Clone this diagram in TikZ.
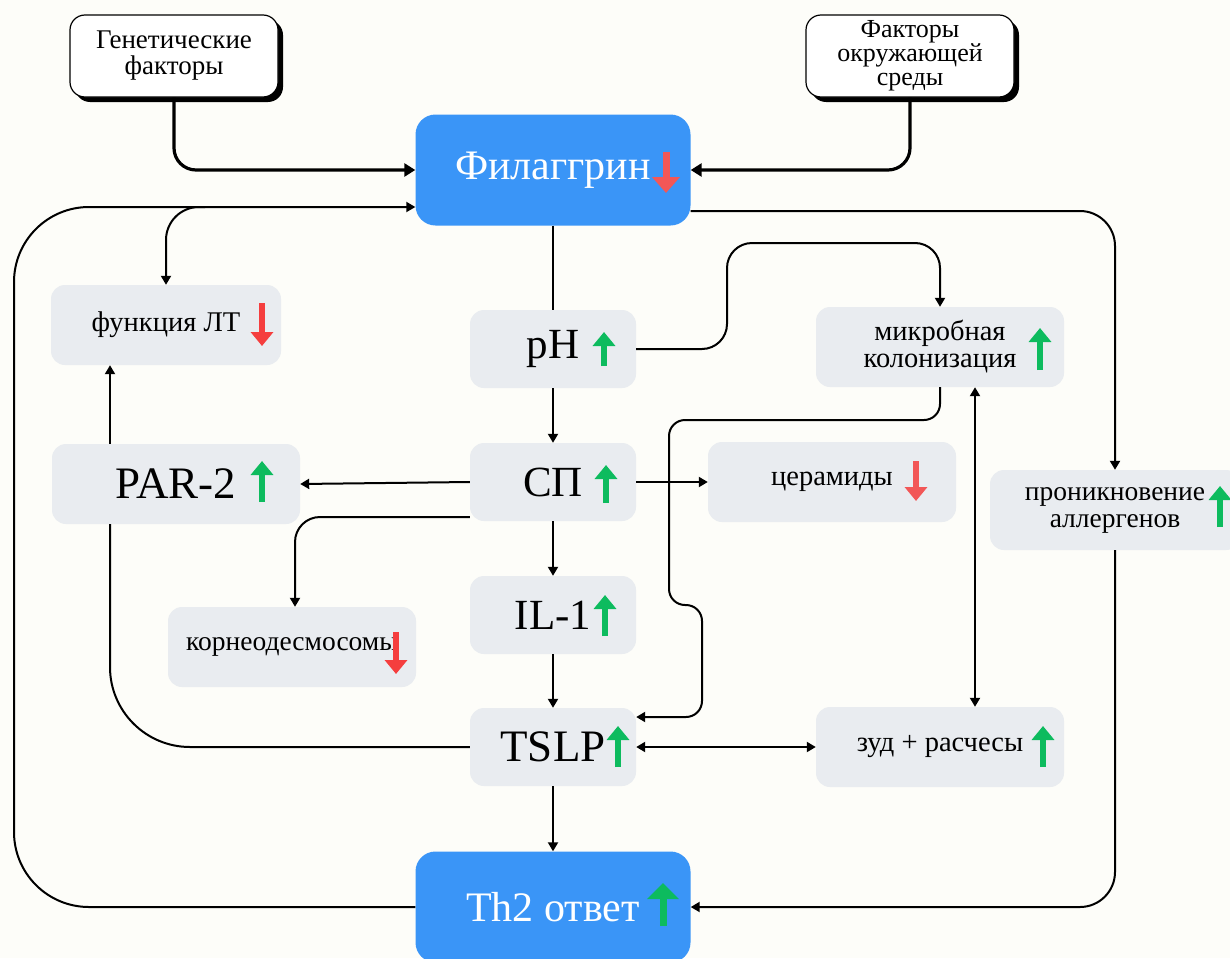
\documentclass[tikz,border=0pt]{standalone}
\usepackage{fontspec}
\setmainfont{Liberation Serif}
\usetikzlibrary{arrows.meta,shadows}

\definecolor{bgpaper}{HTML}{FDFDF9}
\definecolor{fillblue}{HTML}{3A95F7}
\definecolor{fillgray}{HTML}{E9ECF0}
\definecolor{risegreen}{HTML}{0DBB5E}
\definecolor{fallred}{HTML}{F53E3E}
\definecolor{fallsalmon}{HTML}{F25757}

\tikzset{
  factor/.style={draw=black, line width=1.2pt, fill=white, rounded corners=15pt,
    minimum width=208pt, minimum height=82pt, align=center, inner sep=0pt,
    font=\fontsize{27}{26}\selectfont,
    drop shadow={shadow xshift=5pt, shadow yshift=-5pt, fill=black, opacity=1}},
  mainbox/.style={fill=fillblue, rounded corners=20pt, minimum width=275pt,
    minimum height=111pt, text=white, inner sep=0pt, font=\fontsize{42}{46}\selectfont},
  cell/.style={fill=fillgray, rounded corners=14pt, minimum width=248pt,
    minimum height=80pt, align=center, inner sep=0pt, font=\fontsize{28.5}{27}\selectfont},
  bigcell/.style={cell, minimum width=166pt, minimum height=78pt,
    font=\fontsize{43}{46}\selectfont},
  conn/.style={line width=2pt, -{Triangle[length=9pt,width=10pt]}},
  link/.style={line width=2pt},
  both/.style={line width=2pt, {Triangle[length=9pt,width=10pt]}-{Triangle[length=9pt,width=10pt]}},
  thickconn/.style={line width=3.2pt, -{Triangle[length=11pt,width=13pt]}},
  rise/.style={draw=risegreen, line width=6pt, -{Triangle[length=14pt,width=22pt]}},
  fall/.style={draw=fallred, line width=6pt, -{Triangle[length=14pt,width=22pt]}},
}

\begin{document}
\begin{tikzpicture}[x=1pt, y=-1pt]
\useasboundingbox (0,0) rectangle (1230,958);
\fill[bgpaper] (0,0) rectangle (1230,958);

% sources at the top
\node[factor] (gen) at (174,56) {Генетические\\факторы};
\node[factor, font=\fontsize{26}{24}\selectfont] (env) at (910,56) {Факторы\\окружающей\\среды};
\node[mainbox] (fil) at (553,170) {Филаггрин};

% central column
\node[bigcell] (ph) at (553,349) {pH};
\node[bigcell] (sp) at (553,482) {СП};
\node[bigcell] (il) at (553,615) {IL-1};
\node[bigcell, font=\fontsize{45}{46}\selectfont] (tslp) at (553,747) {TSLP};
\node[mainbox] (th2) at (553,907) {Th2 ответ};

% side effects
\node[cell, minimum width=230pt] (lt) at (166,325) {функция ЛТ};
\node[cell, font=\fontsize{45}{46}\selectfont] (par) at (176,484) {PAR-2};
\node[cell, font=\fontsize{27.5}{27}\selectfont] (kor) at (292,647) {корнеодесмосомы};
\node[cell] (micro) at (940,347) {микробная\\колонизация};
\node[cell] (cer) at (832,482) {церамиды};
\node[cell, minimum width=250pt, font=\fontsize{27.5}{27}\selectfont] (allerg) at (1115,510) {проникновение\\аллергенов};
\node[cell] (itch) at (940,747) {зуд + расчесы};

% up / down marks
\draw[fall, draw=fallsalmon, line width=7pt, -{Triangle[length=16pt,width=27pt]}] (666,152) -- (666,193);
\draw[rise] (604,366) -- (604,332);
\draw[fall] (262,303) -- (262,346);
\draw[rise] (1040,370) -- (1040,328);
\draw[rise] (262,502) -- (262,461);
\draw[rise] (606,503) -- (606,465);
\draw[fall, draw=fallsalmon] (916,461) -- (916,501);
\draw[rise] (1220,527) -- (1220,486);
\draw[fall] (396,632) -- (396,674);
\draw[rise] (605,636) -- (605,595);
\draw[rise] (618,767) -- (618,726);
\draw[rise] (1043,767) -- (1043,726);
\draw[rise, line width=7pt, -{Triangle[length=16pt,width=31pt]}] (663,926) -- (663,883);

% connectors
\draw[thickconn, rounded corners=22pt] (gen.south) |- (fil.west);
\draw[thickconn, rounded corners=22pt] (env.south) |- (fil.east);
\draw[link] (fil.south) -- (ph.north);
\draw[conn] (ph.south) -- (sp.north);
\draw[conn] (sp.south) -- (il.north);
\draw[conn] (il.south) -- (tslp.north);
\draw[conn] (tslp.south) -- (th2.north);
\draw[conn, rounded corners=25pt] (ph.east) -| (727,243) -| (micro.north);
\draw[conn, rounded corners=16pt] (micro.south) |- (669,420) |- (702,605) |- ([yshift=30pt]tslp.east);
\draw[conn] (sp.west) -- (par.east);
\draw[conn] (sp.east) -- (cer.west);
\draw[conn, rounded corners=25pt] ([yshift=-35pt]sp.west) -| ([xshift=3pt]kor.north);
\draw[conn] ([xshift=-66pt]par.north) -- ([xshift=-56pt]lt.south);
\draw[link, rounded corners=80pt] (tslp.west) -| ([xshift=-66pt]par.south);
\draw[conn, rounded corners=75pt] (th2.west) -| (14,207) -- ([yshift=-37pt]fil.west);
\coordinate (split) at (205,207);
\draw[conn, rounded corners=33pt] (split) -| (lt.north);
\draw[conn, rounded corners=35pt] ([yshift=-41pt]fil.east) -| (allerg.north);
\draw[conn, rounded corners=35pt] (allerg.south) |- (th2.east);
\draw[both] (tslp.east) -- (itch.west);
\draw[both] ([xshift=35pt]micro.south) -- ([xshift=35pt]itch.north);
\end{tikzpicture}
\end{document}
